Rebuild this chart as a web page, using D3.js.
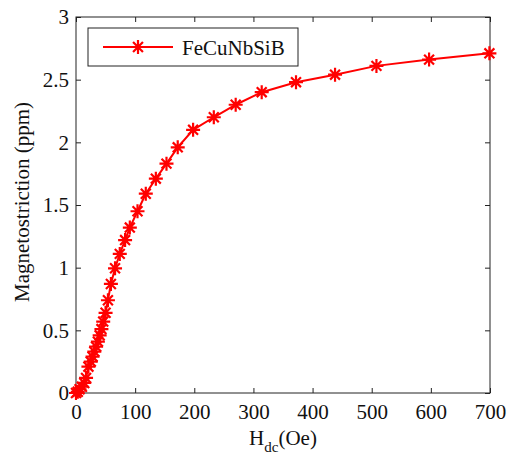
<!DOCTYPE html>
<html><head><meta charset="utf-8">
<script src="https://cdn.jsdelivr.net/npm/d3@7"></script>
<style>body{margin:0;background:#fff}svg{display:block}text{font-family:"Liberation Serif","Times New Roman",serif;fill:#111}</style>
</head><body><svg id="c" width="507" height="454"></svg>
<script>
const seriesName = "FeCuNbSiB";
const hdc = [0, 3, 6, 10, 14, 17, 21, 25, 28, 31, 34, 37, 40, 43, 46, 50, 54, 59, 66, 74, 83, 91, 104, 118, 135, 153, 172, 198, 233, 270, 314, 372, 438, 508, 597, 699];
const lambda = [0, 0.01, 0.03, 0.05, 0.08, 0.12, 0.21, 0.25, 0.29, 0.33, 0.37, 0.41, 0.46, 0.51, 0.57, 0.64, 0.74, 0.87, 0.995, 1.11, 1.22, 1.32, 1.45, 1.59, 1.71, 1.83, 1.96, 2.10, 2.20, 2.30, 2.40, 2.48, 2.54, 2.61, 2.66, 2.71];
const xTicks = [0, 100, 200, 300, 400, 500, 600, 700];
const yTicks = [0, 0.5, 1, 1.5, 2, 2.5, 3];

const svg = d3.select("#c");
const L = 76, R = 490, T = 17, B = 393;
const x = d3.scaleLinear().domain([0, 700]).range([L, R]);
const y = d3.scaleLinear().domain([0, 3]).range([B, T]);
const fs = 21;

// axes with inward ticks on all sides
const gx = svg.append("g").attr("transform", `translate(0,${B})`)
  .call(d3.axisBottom(x).tickValues(xTicks).tickFormat(d3.format("d")).tickSize(-5).tickPadding(11));
const gxt = svg.append("g").attr("transform", `translate(0,${T})`)
  .call(d3.axisTop(x).tickValues(xTicks).tickFormat("").tickSize(-5));
const gy = svg.append("g").attr("transform", `translate(${L},0)`)
  .call(d3.axisLeft(y).tickValues(yTicks).tickFormat(d => d3.format("")(d)).tickSize(-5).tickPadding(7));
const gyr = svg.append("g").attr("transform", `translate(${R},0)`)
  .call(d3.axisRight(y).tickValues(yTicks).tickFormat("").tickSize(-5));
[gx, gxt, gy, gyr].forEach(g => {
  g.attr("font-size", null).attr("font-family", null);
  g.select(".domain").remove();
  g.selectAll("line").attr("stroke", "#222").attr("stroke-width", 1);
  g.selectAll("text").style("font-size", fs + "px").attr("fill", "#111");
});
svg.append("rect").attr("x", L).attr("y", T).attr("width", R - L).attr("height", B - T)
  .attr("fill", "none").attr("stroke", "#222").attr("stroke-width", 1);

// line
const pts = hdc.map((d, i) => [d, lambda[i]]);
svg.append("path").datum(pts)
  .attr("d", d3.line().x(d => x(d[0])).y(d => y(d[1])))
  .attr("fill", "none").attr("stroke", "#ff0000").attr("stroke-width", 2);

function star(g, cx, cy, r) {
  const s = r * Math.SQRT1_2;
  g.append("path")
    .attr("d", `M${cx - r},${cy}L${cx + r},${cy}M${cx},${cy - r}L${cx},${cy + r}M${cx - s},${cy - s}L${cx + s},${cy + s}M${cx - s},${cy + s}L${cx + s},${cy - s}`)
    .attr("stroke", "#ff0000").attr("stroke-width", 2.2).attr("fill", "none");
}
const mg = svg.append("g");
pts.forEach(d => star(mg, x(d[0]), y(d[1]), 7));

// legend
svg.append("rect").attr("x", 88).attr("y", 28).attr("width", 210).attr("height", 38)
  .attr("fill", "#fff").attr("stroke", "#222").attr("stroke-width", 1);
svg.append("line").attr("x1", 103).attr("x2", 173).attr("y1", 47).attr("y2", 47)
  .attr("stroke", "#ff0000").attr("stroke-width", 2);
star(svg, 138, 47, 7);
svg.append("text").attr("x", 182).attr("y", 55).style("font-size", fs + "px").text(seriesName);

// axis labels
svg.append("text").attr("transform", `translate(29,${(T + B) / 2 - 3}) rotate(-90)`)
  .attr("text-anchor", "middle").style("font-size", fs + "px").text("Magnetostriction (ppm)");
const xl = svg.append("text").attr("x", 283).attr("y", 445).attr("text-anchor", "middle").style("font-size", fs + "px");
xl.append("tspan").text("H");
xl.append("tspan").attr("dy", 7).style("font-size", "15px").text("dc");
xl.append("tspan").attr("dy", -7).text("(Oe)");
</script></body></html>
